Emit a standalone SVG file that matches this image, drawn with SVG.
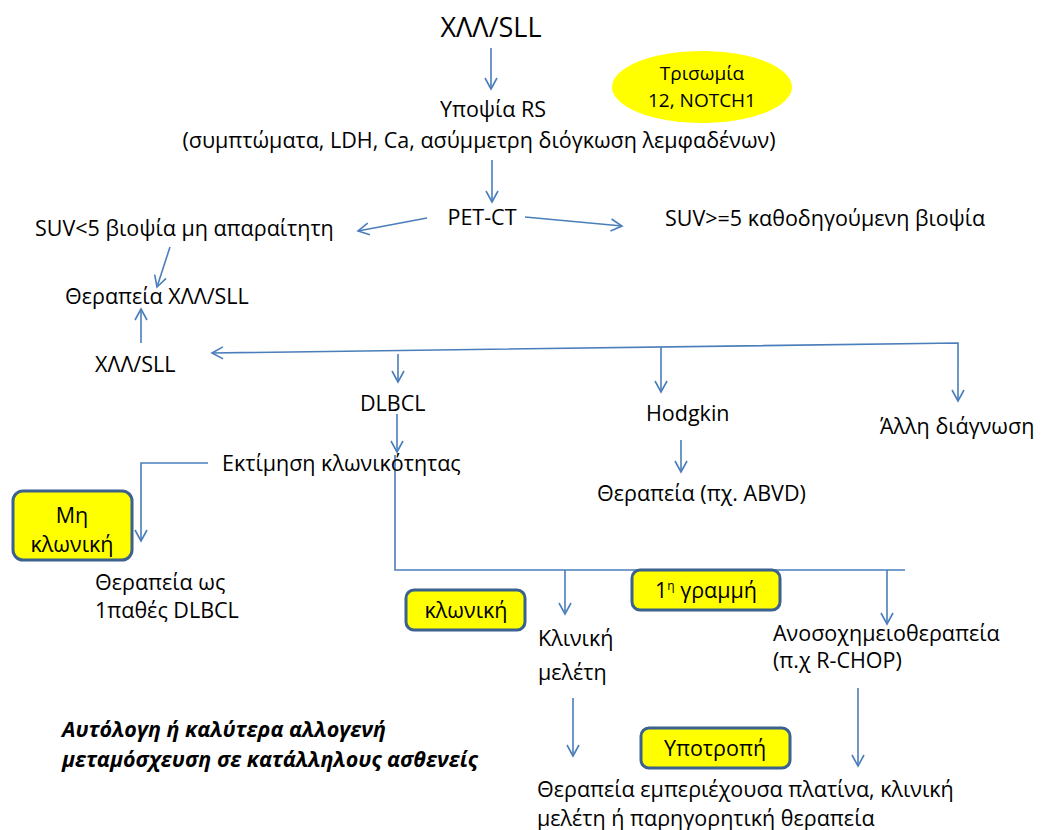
<svg xmlns="http://www.w3.org/2000/svg" width="1046" height="830" viewBox="0 0 1046 830">
<style>
text{font-family:"Open Sans","Liberation Sans",sans-serif;font-size:21.5px;fill:#000}
.big{font-size:27px}
.it{font-style:italic;font-weight:bold;font-size:21.5px}
.sm{font-size:19px}
.c{stroke:#4A7EBB;stroke-width:1.6;fill:none}
.box{fill:#FFFF00;stroke:#3B618E;stroke-width:3}
</style>
<defs>
<marker id="ah" markerUnits="userSpaceOnUse" markerWidth="16" markerHeight="16" refX="12" refY="7" orient="auto">
<path d="M1,1 L12,7 L1,13" fill="none" stroke="#4A7EBB" stroke-width="1.6"/>
</marker>
</defs>
<rect width="1046" height="830" fill="#fff"/>
<g id="connectors">
<line class="c" x1="491" y1="48" x2="491" y2="89" marker-end="url(#ah)"/>
<line class="c" x1="492" y1="160" x2="492" y2="202" marker-end="url(#ah)"/>
<line class="c" x1="427" y1="218" x2="358" y2="231" marker-end="url(#ah)"/>
<line class="c" x1="525" y1="217" x2="622" y2="226" marker-end="url(#ah)"/>
<line class="c" x1="170" y1="247" x2="157" y2="287" marker-end="url(#ah)"/>
<line class="c" x1="141" y1="343" x2="141" y2="309" marker-end="url(#ah)"/>
<polyline class="c" points="958,370 958,343 212,353" marker-end="url(#ah)"/>
<line class="c" x1="958" y1="370" x2="958" y2="401" marker-end="url(#ah)"/>
<line class="c" x1="398" y1="354" x2="398" y2="382" marker-end="url(#ah)"/>
<line class="c" x1="661" y1="347" x2="661" y2="392" marker-end="url(#ah)"/>
<line class="c" x1="681" y1="440" x2="681" y2="472" marker-end="url(#ah)"/>
<line class="c" x1="397" y1="414" x2="397" y2="452" marker-end="url(#ah)"/>
<polyline class="c" points="395,455 395,570 905,570"/>
<polyline class="c" points="208,463 141,463 141,541" marker-end="url(#ah)"/>
<line class="c" x1="565" y1="570" x2="565" y2="614" marker-end="url(#ah)"/>
<line class="c" x1="887" y1="570" x2="887" y2="624" marker-end="url(#ah)"/>
<line class="c" x1="573" y1="698" x2="573" y2="756" marker-end="url(#ah)"/>
<line class="c" x1="858" y1="688" x2="858" y2="766" marker-end="url(#ah)"/>
</g>
<g id="n-cll-top"><text class="big" x="491" y="37" text-anchor="middle">ΧΛΛ/SLL</text></g>
<g id="n-trisomy">
<ellipse cx="702" cy="87" rx="90" ry="36" fill="#FFFF00"/>
<text class="sm" x="702" y="80" text-anchor="middle">Τρισωμία</text>
<text class="sm" x="702" y="107" text-anchor="middle">12, NOTCH1</text>
</g>
<g id="n-rs">
<text x="493" y="117" text-anchor="middle">Υποψία RS</text>
<text x="479" y="148" text-anchor="middle">(συμπτώματα, LDH, Ca, ασύμμετρη διόγκωση λεμφαδένων)</text>
</g>
<g id="n-pet"><text x="482" y="225" text-anchor="middle">PET-CT</text></g>
<g id="n-suvlow"><text x="35" y="236">SUV&lt;5 βιοψία μη απαραίτητη</text></g>
<g id="n-suvhigh"><text x="665" y="226">SUV&gt;=5 καθοδηγούμενη βιοψία</text></g>
<g id="n-therapy-cll"><text x="65" y="304">Θεραπεία ΧΛΛ/SLL</text></g>
<g id="n-cll"><text x="95" y="372">ΧΛΛ/SLL</text></g>
<g id="n-dlbcl"><text x="360" y="411">DLBCL</text></g>
<g id="n-hodgkin"><text x="646" y="421">Hodgkin</text></g>
<g id="n-other"><text x="880" y="434">Άλλη διάγνωση</text></g>
<g id="n-abvd"><text x="597" y="501">Θεραπεία (πχ. ABVD)</text></g>
<g id="n-clonality"><text x="222" y="471">Εκτίμηση κλωνικότητας</text></g>
<g id="n-nonclonal">
<rect class="box" x="13" y="491" width="119" height="69" rx="10"/>
<text x="72" y="523" text-anchor="middle">Μη</text>
<text x="72" y="552" text-anchor="middle">κλωνική</text>
</g>
<g id="n-therapy-primary">
<text x="95" y="590">Θεραπεία ως</text>
<text x="95" y="618">1παθές DLBCL</text>
</g>
<g id="n-clonal">
<rect class="box" x="406" y="590" width="119" height="40" rx="8"/>
<text x="466" y="618" text-anchor="middle">κλωνική</text>
</g>
<g id="n-firstline">
<rect class="box" x="632" y="570" width="148" height="40" rx="8"/>
<text x="706" y="598" text-anchor="middle">1<tspan font-size="12" dy="-8">η</tspan><tspan dy="8"> γραμμή</tspan></text>
</g>
<g id="n-trial">
<text x="538" y="646">Κλινική</text>
<text x="538" y="680">μελέτη</text>
</g>
<g id="n-immuno">
<text x="773" y="641">Ανοσοχημειοθεραπεία</text>
<text x="773" y="668">(π.χ R-CHOP)</text>
</g>
<g id="n-transplant">
<text class="it" x="62" y="737">Αυτόλογη ή καλύτερα αλλογενή</text>
<text class="it" x="62" y="767">μεταμόσχευση σε κατάλληλους ασθενείς</text>
</g>
<g id="n-relapse">
<rect class="box" x="641" y="728" width="149" height="40" rx="8"/>
<text x="715" y="756" text-anchor="middle">Υποτροπή</text>
</g>
<g id="n-platinum">
<text x="537" y="797">Θεραπεία εμπεριέχουσα πλατίνα, κλινική</text>
<text x="537" y="826">μελέτη ή παρηγορητική θεραπεία</text>
</g>
</svg>
